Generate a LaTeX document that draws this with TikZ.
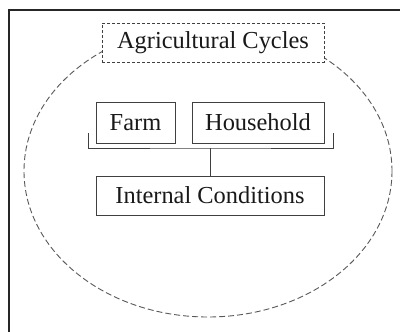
\documentclass[tikz,border=0pt]{standalone}
\usepackage{fontspec}
\setmainfont{Liberation Serif}
\begin{document}
\begin{tikzpicture}[x=1pt,y=-1pt,
  lbl/.style={font=\fontsize{24.4}{27}\selectfont, inner sep=0pt, text=black!90},
  boxn/.style={draw=black!75, line width=0.9pt, fill=white},
  dashbox/.style={draw=black!75, line width=0.9pt, dash pattern=on 3pt off 2pt, fill=white},
  ring/.style={draw=black!65, line width=0.9pt, dash pattern=on 6pt off 3pt},
  conn/.style={draw=black!75, line width=0.9pt}]
\useasboundingbox (0,0) rectangle (400,332);
\fill[white] (0,0) rectangle (400,332);
\draw[black!85, line width=1.5pt] (9,10) rectangle (430,360);
\draw[ring] (208,171) ellipse [x radius=184, y radius=146];
\node[dashbox, minimum width=222pt, minimum height=39pt] (ac) at (213,42.7) {};
\node[lbl] (act) at (ac.center) {Agricultural Cycles};
\node[boxn, minimum width=79pt, minimum height=41pt] (farm) at (135.5,122.5) {};
\node[lbl] at (farm.center) {Farm};
\node[boxn, minimum width=132pt, minimum height=41pt] (hh) at (258,122.5) {};
\node[lbl] at (hh.center) {Household};
\node[boxn, minimum width=228pt, minimum height=39pt] (ic) at (210,195.5) {};
\node[lbl] at (ic.center) {Internal Conditions};
\coordinate (bl) at (88,133);
\coordinate (br) at (333,133);
\coordinate (bm) at (210,148);
\draw[conn] (bl) |- (bm) -| (br);
\draw[conn] (bm) -- (ic.north -| bm);
\end{tikzpicture}
\end{document}
